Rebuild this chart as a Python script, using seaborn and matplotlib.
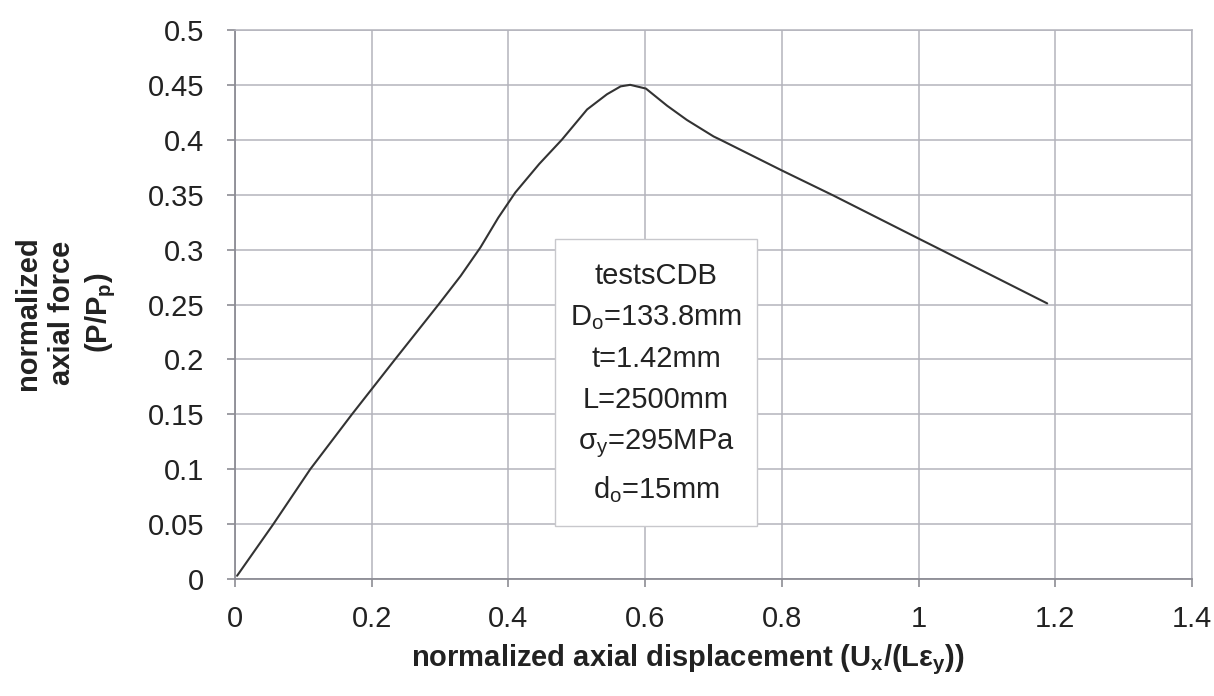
import matplotlib
matplotlib.use("Agg")
import matplotlib.pyplot as plt
from matplotlib.patches import Rectangle
import seaborn as sns
import pandas as pd

displacement = [0.003, 0.056, 0.110, 0.171, 0.234, 0.2977, 0.330, 0.359, 0.385,
                0.410, 0.445, 0.478, 0.515, 0.544, 0.564, 0.578, 0.601, 0.632,
                0.661, 0.700, 0.710, 0.800, 0.876, 1.000, 1.032, 1.188]
force = [0.003, 0.050, 0.100, 0.150, 0.200, 0.250, 0.276, 0.302, 0.329,
         0.352, 0.378, 0.400, 0.4276, 0.4414, 0.4486, 0.450, 0.4466, 0.431,
         0.418, 0.403, 0.400, 0.372, 0.349, 0.310, 0.300, 0.251]

x_ticks = [0, 0.2, 0.4, 0.6, 0.8, 1.0, 1.2, 1.4]
x_tick_labels = ["0", "0.2", "0.4", "0.6", "0.8", "1", "1.2", "1.4"]
y_ticks = [0, 0.05, 0.1, 0.15, 0.2, 0.25, 0.3, 0.35, 0.4, 0.45, 0.5]
y_tick_labels = ["0", "0.05", "0.1", "0.15", "0.2", "0.25", "0.3", "0.35", "0.4", "0.45", "0.5"]

info_lines = ["testsCDB", "D$_\\mathregular{o}$=133.8mm", "t=1.42mm", "L=2500mm",
              "σ$_\\mathregular{y}$=295MPa", "d$_\\mathregular{o}$=15mm"]

sns.set_theme(style="white")
plt.rcParams['font.family'] = ['Liberation Sans', 'DejaVu Sans']
plt.rcParams['mathtext.fontset'] = 'custom'
plt.rcParams['mathtext.rm'] = 'Liberation Sans'
plt.rcParams['mathtext.bf'] = 'Liberation Sans:bold'

df = pd.DataFrame({"x": displacement, "y": force})

fig = plt.figure(figsize=(12.14, 6.96), dpi=100)
ax = fig.add_axes([0.1936, 0.168, 0.7884, 0.789])

sns.lineplot(data=df, x="x", y="y", ax=ax, color="#333333", linewidth=1.5,
             estimator=None, sort=False)

ax.set_xlim(0, 1.4)
ax.set_ylim(0, 0.5)
ax.set_xticks(x_ticks)
ax.set_xticklabels(x_tick_labels)
ax.set_yticks(y_ticks)
ax.set_yticklabels(y_tick_labels)

grid_col = "#b4b4bc"
ax.grid(True, color=grid_col, linewidth=1.1)
ax.set_axisbelow(True)
for side in ["left", "bottom"]:
    ax.spines[side].set_color("#8c8c94")
    ax.spines[side].set_linewidth(1.3)
for side in ["right", "top"]:
    ax.spines[side].set_color(grid_col)
    ax.spines[side].set_linewidth(1.1)

ax.tick_params(axis="both", which="major", direction="out", length=6, width=1.2,
               color="#8c8c94", labelsize=21, labelcolor="#222222")
ax.tick_params(axis="y", pad=16, left=True)
ax.tick_params(axis="x", pad=13, bottom=True)

ax.set_xlabel("normalized axial displacement (U$_\\mathregular{x}$/(L$\\mathbf{ε}_\\mathregular{y}$))",
              fontsize=21, fontweight="bold", color="#222222", va="center")
ax.xaxis.set_label_coords((688 - 235) / 957, (579 - 660) / 549)
ax.set_ylabel("normalized\naxial force\n(P/P$_\\mathregular{p}$)", fontsize=21,
              fontweight="bold", color="#222222", linespacing=1.3, va="center")
ax.yaxis.set_label_coords((66 - 235) / 957, 0.485)

# annotation box
ax.add_patch(Rectangle((0.4685, 0.048), 0.2945, 0.262, transform=ax.transData,
                       facecolor="white", edgecolor="#c8c8cc", linewidth=1.0, zorder=4))
ax.text(0.6157, 0.178, "\n".join(info_lines), transform=ax.transData,
        ha="center", va="center", fontsize=21, color="#222222", linespacing=1.6,
        multialignment="center", zorder=5)

fig.savefig("out.png", dpi=100, facecolor="white")
